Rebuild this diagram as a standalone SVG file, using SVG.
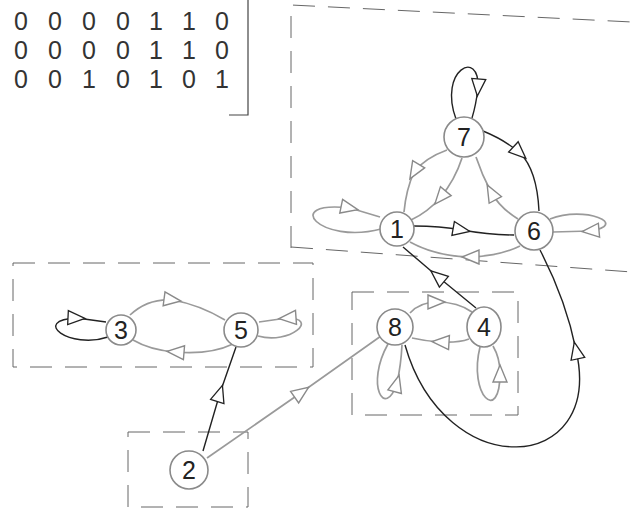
<svg xmlns="http://www.w3.org/2000/svg" width="632" height="509" viewBox="0 0 632 509">
<style>
.mx{font-family:"Liberation Sans",Arial,sans-serif;font-size:25px;fill:#333;text-anchor:middle}
.node circle,.node ellipse{fill:#fff;stroke:#8a8a8a;stroke-width:1.6}
.node text{font-family:"Liberation Sans",Arial,sans-serif;font-size:25px;fill:#222;text-anchor:middle}
.box{fill:none;stroke:#666;stroke-width:1;stroke-dasharray:22 13}
.dk{fill:none;stroke:#222;stroke-width:1.4;marker-mid:url(#ad)}
.gr{fill:none;stroke:#9a9a9a;stroke-width:1.7;marker-mid:url(#ag)}
</style>
<defs>
<marker id="ad" markerUnits="userSpaceOnUse" markerWidth="22" markerHeight="18" refX="9" refY="7" orient="auto" viewBox="-2 -2 22 18">
<path d="M0,0 L17,7 L0,14 Z" fill="#fff" stroke="#222" stroke-width="1.3"/>
</marker>
<marker id="ag" markerUnits="userSpaceOnUse" markerWidth="22" markerHeight="18" refX="9" refY="7" orient="auto" viewBox="-2 -2 22 18">
<path d="M0,0 L17,7 L0,14 Z" fill="#fff" stroke="#8a8a8a" stroke-width="1.4"/>
</marker>
</defs>
<rect width="632" height="509" fill="#fff"/>

<g id="matrix">
<text class="mx" x="21" y="30">0</text><text class="mx" x="55" y="30">0</text><text class="mx" x="89" y="30">0</text><text class="mx" x="123" y="30">0</text><text class="mx" x="156" y="30">1</text><text class="mx" x="189" y="30">1</text><text class="mx" x="222" y="30">0</text>
<text class="mx" x="21" y="59">0</text><text class="mx" x="55" y="59">0</text><text class="mx" x="89" y="59">0</text><text class="mx" x="123" y="59">0</text><text class="mx" x="156" y="59">1</text><text class="mx" x="189" y="59">1</text><text class="mx" x="222" y="59">0</text>
<text class="mx" x="21" y="88">0</text><text class="mx" x="55" y="88">0</text><text class="mx" x="89" y="88">1</text><text class="mx" x="123" y="88">0</text><text class="mx" x="156" y="88">1</text><text class="mx" x="189" y="88">0</text><text class="mx" x="222" y="88">1</text>
<path d="M248,0 L248,115 L229,115" fill="none" stroke="#444" stroke-width="1.2"/>
</g>

<g id="boxes">
<path class="box" d="M291,248 L291,5 L632,22"/>
<path class="box" d="M291,247 L632,272"/>
<rect class="box" x="13" y="263" width="300" height="104"/>
<rect class="box" x="352" y="292" width="166" height="123"/>
<rect class="box" x="128" y="432" width="120" height="75"/>
</g>

<g id="connectors">
<path class="dk" d="M456,119 C438,70 480,48 478,88 Q476,105 472,118"/>
<path class="dk" d="M483,131 Q505,140 520,153 Q537,170 539,211"/>
<path class="gr" d="M447,150 Q425,158 414,172 Q406,190 404,212"/>
<path class="gr" d="M462,158 Q455,180 440,198 Q428,212 411,220"/>
<path class="gr" d="M518,219 Q500,208 491,192 Q482,175 476,157"/>
<path class="gr" d="M381,229 C320,245 280,200 350,208 L380,217"/>
<path class="dk" d="M414,226 Q440,226 462,230 Q490,235 514,235"/>
<path class="gr" d="M550,219 C585,205 630,225 590,231 L553,232"/>
<path class="gr" d="M520,246 Q500,256 470,257 Q435,256 410,242"/>
<path class="dk" d="M476,308 L437,276 L403,247"/>
<path class="dk" d="M405,345 C445,485 605,475 576,350 Q566,300 540,250"/>
<path class="gr" d="M410,313 Q420,302 437,302 Q458,302 472,312"/>
<path class="gr" d="M469,339 Q458,343 440,342 Q425,341 412,338"/>
<path class="gr" d="M388,344 C365,385 385,420 397,383 Q401,365 402,345"/>
<path class="gr" d="M480,347 C468,395 500,425 500,373 Q500,358 493,346"/>
<path class="dk" d="M108,337 C70,350 30,320 77,318 L106,322"/>
<path class="gr" d="M130,315 Q148,298 173,300 Q200,305 225,320"/>
<path class="gr" d="M233,344 Q210,355 175,352 Q150,350 133,340"/>
<path class="gr" d="M258,336 C290,345 320,318 287,318 L259,322"/>
<path class="dk" d="M203,451 L220,393 L236,347"/>
<path class="gr" d="M207,458 L302,392 L381,336"/>
</g>

<g id="n7" class="node"><circle cx="464" cy="137" r="20"/><text x="464" y="146">7</text></g>
<g id="n1" class="node"><circle cx="397" cy="229" r="17"/><text x="397" y="238">1</text></g>
<g id="n6" class="node"><circle cx="534" cy="231" r="19"/><text x="534" y="240">6</text></g>
<g id="n3" class="node"><circle cx="121" cy="330" r="15"/><text x="121" y="339">3</text></g>
<g id="n5" class="node"><circle cx="241" cy="330" r="17"/><text x="241" y="339">5</text></g>
<g id="n8" class="node"><circle cx="395" cy="327" r="18"/><text x="395" y="336">8</text></g>
<g id="n4" class="node"><ellipse cx="484" cy="327" rx="17" ry="20"/><text x="484" y="336">4</text></g>
<g id="n2" class="node"><circle cx="189" cy="470" r="19"/><text x="189" y="479">2</text></g>
</svg>
